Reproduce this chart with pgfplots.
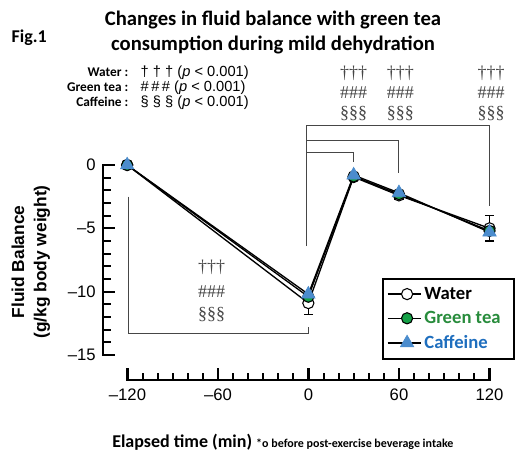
\documentclass[border=0pt]{standalone}
\usepackage{fontspec}
\setmainfont{Carlito}
\newfontfamily\arial{Liberation Sans}
\newfontfamily\tnr{Liberation Serif}
\usepackage{pgfplots}
\pgfplotsset{compat=1.18}
\definecolor{gtea}{RGB}{20,160,70}
\definecolor{gtext}{RGB}{40,140,60}
\definecolor{caff}{RGB}{75,140,205}
\definecolor{ctext}{RGB}{30,110,190}
\definecolor{brk}{RGB}{70,70,70}
\definecolor{tk}{RGB}{0,0,0}
\tikzset{sig/.style={font=\tnr\fontsize{13.5}{14}\selectfont, text=brk, inner sep=0pt}}
\begin{document}
\begin{tikzpicture}
\useasboundingbox (0,0) rectangle (395.25pt,337.5pt);
% y ticks (comb plots from the y axis line)
\begin{axis}[
  at={(77.25pt,71.25pt)}, anchor=south west,
  scale only axis, width=289.9pt, height=142.5pt,
  xmin=0, xmax=1, ymin=-15, ymax=0,
  hide axis, clip=false,
]
\addplot[xcomb, tk, line width=1.6pt, mark=none] coordinates {(0.031,0) (0.031,-5) (0.031,-10) (0.031,-15)};
\addplot[xcomb, tk, line width=1.4pt, mark=none] coordinates {
  (0.02,-1) (0.02,-2) (0.02,-3) (0.02,-4) (0.02,-6) (0.02,-7) (0.02,-8) (0.02,-9)
  (0.02,-11) (0.02,-12) (0.02,-13) (0.02,-14)};
\end{axis}
% main axis (y axis + data)
\begin{axis}[
  at={(77.25pt,71.25pt)}, anchor=south west,
  scale only axis, width=289.9pt, height=142.5pt,
  xmin=-136, xmax=120, ymin=-15, ymax=0,
  axis line style={draw=none},
  clip=false,
  xtick=\empty,
  ytick={-15,-10,-5,0}, yticklabels={–15,–10,–5,0},
  ytick pos=left,
  every major tick/.append style={draw=none},
  yticklabel style={font=\arial\fontsize{12.5}{14}\selectfont, xshift=-2pt},
  legend style={at={(0.722,0.405)}, anchor=north west, draw=black, line width=1.5pt,
    font=\bfseries\fontsize{14}{15}\selectfont, row sep=3.5pt, inner xsep=3pt, inner ysep=4pt},
  legend image code/.code={
    \path (0pt,0pt) -- (25pt,0pt);
    \draw[mark repeat=2,mark phase=2,#1] plot coordinates {(7pt,0pt) (14.5pt,0pt) (22pt,0pt)};},
  legend cell align=left,
]
\draw[black, line width=2.2pt, line cap=rect] (rel axis cs:0,0) -- (rel axis cs:0,1);
\addplot[black, line width=1pt, mark=*, mark size=4.2pt,
  mark options={fill=white, draw=black, line width=0.8pt},
  error bars/.cd, y dir=both, y explicit,
  error bar style={line width=0.8pt, black},
  error mark options={rotate=90, mark size=3.5pt, line width=0.8pt, black}]
  coordinates {(-120,0) +- (0,0) (0,-10.9) +- (0,0.9) (30,-0.95) +- (0,0.3) (60,-2.4) +- (0,0.3) (120,-5.0) +- (0,1.0)};
\addlegendentry{\makebox[62pt][l]{Water}}
\addplot[black, line width=1pt, mark=*, mark size=4.2pt,
  mark options={fill=gtea, draw=black, line width=0.8pt}]
  coordinates {(-120,0) (0,-10.4) (30,-0.9) (60,-2.3) (120,-5.2)};
\addlegendentry{\makebox[62pt][l]{\textcolor{gtext}{Green tea}}}
\addplot[black, line width=1pt, mark=triangle*, mark size=5.8pt,
  mark options={fill=caff, draw=caff, line width=0.5pt}]
  coordinates {(-120,0) (0,-10.2) (30,-0.8) (60,-2.2) (120,-5.3)};
\addlegendentry{\makebox[62pt][l]{\textcolor{ctext}{Caffeine}}}
% brackets
\draw[brk, line width=0.8pt] (-119,-2.5) -- (-119,-13.3) -- (0,-13.3) -- (0,-12.8);
\draw[brk, line width=0.8pt] (-1,-6.4) -- (-1,3.1) -- (120,3.1) -- (120,-3.2);
\draw[brk, line width=0.8pt] (-1,1.9) -- (60,1.9) -- (60,-0.6);
\draw[brk, line width=0.8pt] (-1,1.0) -- (30,1.0) -- (30,0.2);
% significance symbols
\node[sig] at (-64,-8.1) {†††};
\node[sig] at (-64,-10.0) {\#\#\#};
\node[sig] at (-64,-11.8) {§§§};
\node[sig] at (30,7.26) {†††};
\node[sig] at (30,5.68) {\#\#\#};
\node[sig] at (30,4.1) {§§§};
\node[sig] at (61,7.26) {†††};
\node[sig] at (61,5.68) {\#\#\#};
\node[sig] at (61,4.1) {§§§};
\node[sig] at (121,7.26) {†††};
\node[sig] at (121,5.68) {\#\#\#};
\node[sig] at (121,4.1) {§§§};
\end{axis}
% x axis
\begin{axis}[
  at={(95.625pt,52.5pt)}, anchor=south west,
  scale only axis, width=271.5pt, height=20pt,
  xmin=-120, xmax=120, ymin=0, ymax=1,
  axis line style={draw=none},
  clip=false,
  ytick=\empty,
  xtick={-120,-60,0,60,120}, xticklabels={–120,–60,0,60,120},
  xtick pos=bottom,
  every major tick/.append style={draw=none},
  xticklabel style={font=\arial\fontsize{12.5}{14}\selectfont, yshift=-3pt},
]
\draw[black, line width=2.2pt, line cap=rect] (rel axis cs:0,0) -- (rel axis cs:1,0);
\addplot[ycomb, tk, line width=1.6pt, mark=none] coordinates {(-120,0.45) (-60,0.45) (0,0.45) (60,0.45) (120,0.45)};
\addplot[ycomb, tk, line width=1.4pt, mark=none] coordinates {
  (-110,0.27) (-100,0.27) (-90,0.27) (-80,0.27) (-70,0.27)
  (-50,0.27) (-40,0.27) (-30,0.27) (-20,0.27) (-10,0.27)
  (10,0.27) (20,0.27) (30,0.27) (40,0.27) (50,0.27)
  (70,0.27) (80,0.27) (90,0.27) (100,0.27) (110,0.27)};
\end{axis}
% texts in pixel coordinates
\begin{scope}[x=0.75pt, y=-0.75pt, shift={(0pt,337.5pt)}]
\node[font=\bfseries\fontsize{15.5}{17}\selectfont] at (273,20) {Changes in fluid balance with green tea};
\node[font=\bfseries\fontsize{15.5}{17}\selectfont] at (273,45) {consumption during mild dehydration};
\node[anchor=west, font=\bfseries\fontsize{13.5}{15}\selectfont] at (7,38) {Fig.1};
\node[anchor=base east, font=\bfseries\fontsize{10}{11}\selectfont] at (133,77) {Water :};
\node[anchor=base west, font=\arial\fontsize{11}{11}\selectfont] at (136,77) {† † † (\textit{p} < 0.001)};
\node[anchor=base east, font=\bfseries\fontsize{10}{11}\selectfont] at (133,92) {Green tea :};
\node[anchor=base west, font=\arial\fontsize{11}{11}\selectfont] at (136,92) {\#\,\#\,\# (\textit{p} < 0.001)};
\node[anchor=base east, font=\bfseries\fontsize{10}{11}\selectfont] at (133,107) {Caffeine :};
\node[anchor=base west, font=\arial\fontsize{11}{11}\selectfont] at (136,107) {§ § § (\textit{p} < 0.001)};
\node[rotate=90, font=\arial\bfseries\fontsize{13}{15}\selectfont] at (18,262) {Fluid Balance};
\node[rotate=90, font=\arial\bfseries\fontsize{13}{15}\selectfont] at (42,262) {(g/kg body weight)};
\node[anchor=base west, inner sep=0pt] at (112,447) {\bfseries\fontsize{13.5}{16}\selectfont Elapsed time (min) \fontsize{9}{11}\selectfont*o before post-exercise beverage intake};
\end{scope}
\end{tikzpicture}
\end{document}
